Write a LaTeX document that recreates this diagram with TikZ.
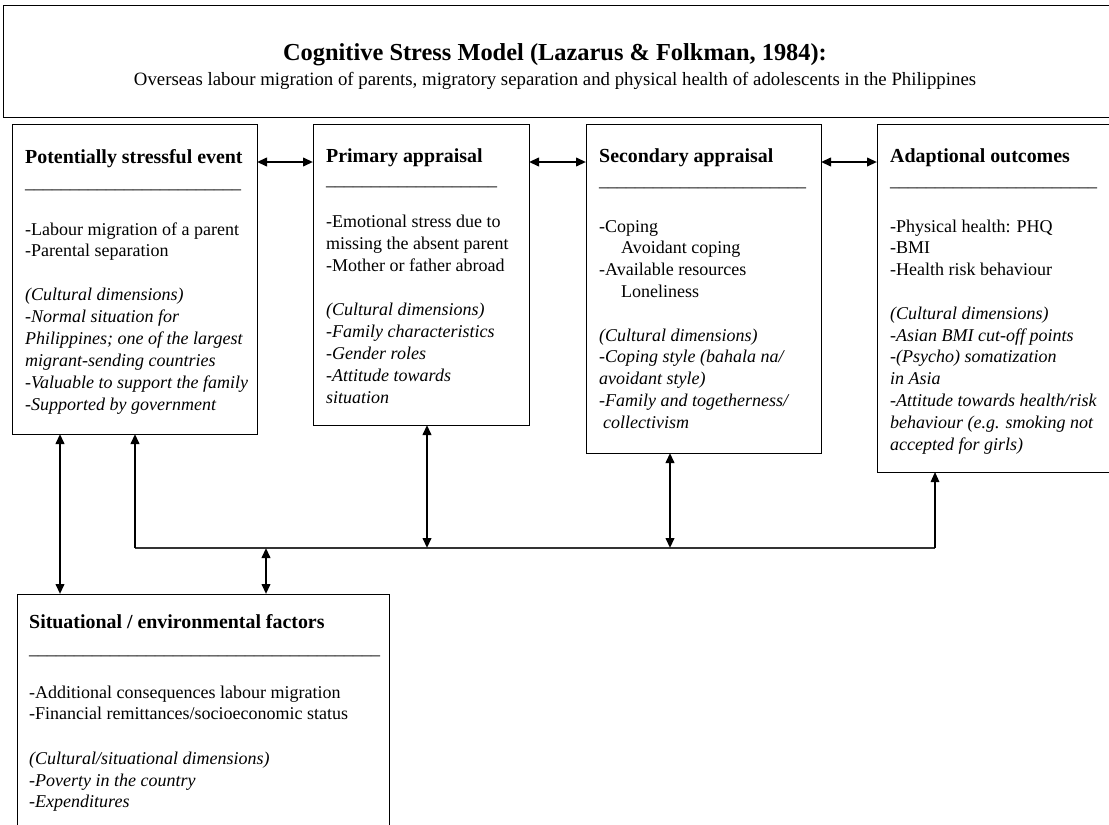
\documentclass[tikz,border=0pt]{standalone}
\usepackage{fontspec}
\setmainfont{Liberation Serif}
\usetikzlibrary{arrows.meta}
\newcommand{\putlines}[6]{%
  \foreach [count=\i] \t in {#6} {\node[#2] (#1\i) at (#3, {#4+#5*(\i-1)}) {\t};}%
}
\newcommand{\ulinetxt}[1]{\foreach \k in {1,...,#1}{\_}}
\begin{document}
\begin{tikzpicture}[x=1pt,y=-1pt,
  box/.style={draw=black, line width=1pt, anchor=north west, inner sep=0pt, outer sep=0pt},
  bodytxt/.style={anchor=base west, inner sep=0pt, font=\fontsize{18}{21}\selectfont},
  italtxt/.style={anchor=base west, inner sep=0pt, font=\fontsize{18}{21}\selectfont\itshape},
  headtxt/.style={anchor=base west, inner sep=0pt, font=\fontsize{19.9}{23}\selectfont\bfseries},
  dblarr/.style={line width=2.2pt, {Triangle[length=10pt,width=8.5pt]}-{Triangle[length=10pt,width=8.5pt]}},
  onearr/.style={line width=2.2pt, -{Triangle[length=10pt,width=8.5pt]}},
  busline/.style={line width=1.3pt, draw=black!80}
]
\useasboundingbox (0,0) rectangle (1109,825);
\clip (0,0) rectangle (1109,825);

% title
\node[box, minimum width=1125pt, minimum height=112pt] (titlebox) at (3,5) {};
\node[anchor=base, inner sep=0pt, font=\fontsize{24.4}{28}\selectfont\bfseries] (title) at (555,60) {Cognitive Stress Model (Lazarus \& Folkman, 1984):};
\node[anchor=base, inner sep=0pt, font=\fontsize{18.8}{22}\selectfont] (subtitle) at (555,85) {Overseas labour migration of parents, migratory separation and physical health of adolescents in the Philippines};

% boxes
\node[box, minimum width=245pt, minimum height=310pt] (pse) at (12,124) {};
\node[box, minimum width=216pt, minimum height=301pt] (pa) at (313,124) {};
\node[box, minimum width=235pt, minimum height=329pt] (sa) at (586,124) {};
\node[box, minimum width=260pt, minimum height=348pt] (ao) at (877,124) {};
\node[box, minimum width=372pt, minimum height=280pt] (sit) at (17,594) {};

% box 1
\node[headtxt] (pseh) at (25,163) {Potentially stressful event};
\node[bodytxt] (pseu) at (25,188) {\ulinetxt{24}};
\putlines{pser}{bodytxt}{25}{235}{21.9}{{-Labour migration of a parent},{-Parental separation}}
\putlines{psei}{italtxt}{25}{300.7}{21.9}{{(Cultural dimensions)},{-Normal situation for},{Philippines; one of the largest},{migrant-sending countries},{-Valuable to support the family},{-Supported by government}}

% box 2
\node[headtxt] (pah) at (326,162) {Primary appraisal};
\node[bodytxt] (pau) at (326,185) {\ulinetxt{19}};
\putlines{par}{bodytxt}{326}{227}{22}{{-Emotional stress due to},{missing the absent parent},{-Mother or father abroad}}
\putlines{pai}{italtxt}{326}{315}{22}{{(Cultural dimensions)},{-Family characteristics},{-Gender roles},{-Attitude towards},{situation}}

% box 3
\node[headtxt] (sah) at (599,162) {Secondary appraisal};
\node[bodytxt] (sau) at (599,186) {\ulinetxt{23}};
\node[bodytxt] (sar1) at (599,232) {-Coping};
\node[bodytxt] (sar2) at (621,253.8) {Avoidant coping};
\node[bodytxt] (sar3) at (599,275.6) {-Available resources};
\node[bodytxt] (sar4) at (621,297.4) {Loneliness};
\putlines{sai}{italtxt}{599}{341}{21.8}{{(Cultural dimensions)},{-Coping style (bahala na/},{avoidant style)},{-Family and togetherness/},{\hspace*{4pt}collectivism}}

% box 4
\node[headtxt] (aoh) at (890,162) {Adaptional outcomes};
\node[bodytxt] (aou) at (890,186) {\ulinetxt{23}};
\putlines{aor}{bodytxt}{890}{232}{21.8}{{-Physical health: PHQ},{-BMI},{-Health risk behaviour}}
\putlines{aoi}{italtxt}{890}{319.2}{21.8}{{(Cultural dimensions)},{-Asian BMI cut-off points},{-(Psycho) somatization},{in Asia},{-Attitude towards health/risk},{behaviour (e.g. smoking not},{accepted for girls)}}

% bottom box
\node[headtxt] (sith) at (29,628) {Situational / environmental factors};
\node[bodytxt] (situ) at (29,654) {\ulinetxt{39}};
\putlines{sitr}{bodytxt}{29}{698}{21.5}{{-Additional consequences labour migration},{-Financial remittances/socioeconomic status}}
\putlines{siti}{italtxt}{29}{764.5}{21.5}{{(Cultural/situational dimensions)},{-Poverty in the country},{-Expenditures}}

% horizontal connectors
\draw[dblarr] ([yshift=-38pt]pse.north east) -- ([yshift=-38pt]pa.north west);
\draw[dblarr] ([yshift=-38pt]pa.north east) -- ([yshift=-38pt]sa.north west);
\draw[dblarr] ([yshift=-38pt]sa.north east) -- ([yshift=-38pt]ao.north west);

% bus and vertical connectors
\coordinate (busL) at (135,548);
\coordinate (busR) at (935,548);
\coordinate (j2) at (427,548);
\coordinate (j3) at (670,548);
\coordinate (j5) at (266,548);
\coordinate (L1) at (60,434);
\draw[busline] (busL) -- (busR);
\draw[onearr] (busL) -- (busL |- pse.south);
\draw[onearr, line width=1.6pt] (busR) -- (busR |- ao.south);
\draw[dblarr] (j2) -- (j2 |- pa.south);
\draw[dblarr] (j3) -- (j3 |- sa.south);
\draw[dblarr] (j5) -- (j5 |- sit.north);
\draw[dblarr] (L1 |- pse.south) -- (L1 |- sit.north);
\end{tikzpicture}
\end{document}
